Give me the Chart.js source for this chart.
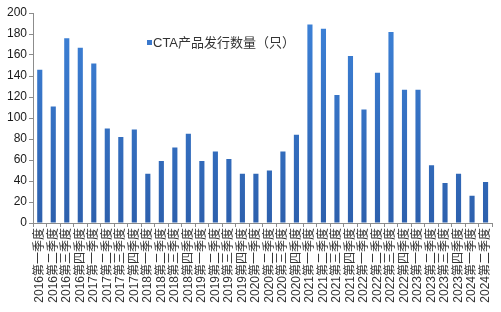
<!DOCTYPE html>
<html>
<head>
<meta charset="utf-8">
<script src="https://cdn.jsdelivr.net/npm/chart.js@4"></script>
<style>
  html, body { margin: 0; padding: 0; background: #fff; }
  #wrap { width: 501px; height: 312px; }
</style>
</head>
<body>
<div id="wrap"><canvas id="cta-chart"></canvas></div>
<script>
// 季度
const quarterLabels = [
  "2016第一季度", "2016第二季度", "2016第三季度", "2016第四季度",
  "2017第一季度", "2017第二季度", "2017第三季度", "2017第四季度",
  "2018第一季度", "2018第二季度", "2018第三季度", "2018第四季度",
  "2019第一季度", "2019第二季度", "2019第三季度", "2019第四季度",
  "2020第一季度", "2020第二季度", "2020第三季度", "2020第四季度",
  "2021第一季度", "2021第二季度", "2021第三季度", "2021第四季度",
  "2022第一季度", "2022第二季度", "2022第三季度", "2022第四季度",
  "2023第一季度", "2023第二季度", "2023第三季度", "2023第四季度",
  "2024第一季度", "2024第二季度",
];

// CTA产品发行数量
const ctaCounts = [
  146, 111, 176, 167,
  152, 90, 82, 89,
  47, 59, 72, 85,
  59, 68, 61, 47,
  47, 50, 68, 84,
  189, 185, 122, 159,
  108, 143, 182, 127,
  127, 55, 38, 47,
  26, 39,
];

const seriesName = "CTA产品发行数量（只）";
const yTicks = [0, 20, 40, 60, 80, 100, 120, 140, 160, 180, 200];

const fontFamily = '"Liberation Sans", Arial, "Noto Sans CJK SC", sans-serif';

function barGradient(context) {
  const area = context.chart.chartArea;
  if (!area) return "#3a78cc";
  const g = context.chart.ctx.createLinearGradient(0, area.top, 0, area.bottom);
  g.addColorStop(0, "#3d82d8");
  g.addColorStop(1, "#2d60ad");
  return g;
}

// 图例（画在绘图区内）
const innerLegend = {
  id: "innerLegend",
  afterDraw(chart) {
    const ctx = chart.ctx;
    ctx.save();
    ctx.fillStyle = "#3a78cc";
    ctx.fillRect(147, 40, 5, 5);
    ctx.fillStyle = "#333333";
    ctx.font = "13px " + fontFamily;
    ctx.textBaseline = "middle";
    ctx.fillText(seriesName, 153, 43);
    ctx.restore();
  },
};

const ctaChart = document.getElementById("cta-chart");
new Chart(ctaChart, {
  type: "bar",
  data: {
    labels: quarterLabels,
    datasets: [
      {
        label: seriesName,
        data: ctaCounts,
        backgroundColor: barGradient,
        barPercentage: 0.38,
        categoryPercentage: 1,
      },
    ],
  },
  options: {
    responsive: true,
    maintainAspectRatio: false,
    animation: false,
    layout: { padding: { top: 13, right: 3, left: 0, bottom: 0 } },
    plugins: {
      legend: { display: false },
      tooltip: { enabled: false },
    },
    scales: {
      x: {
        grid: {
          display: true,
          drawOnChartArea: false,
          offset: true,
          tickLength: 4,
          color: "#8c8c8c",
        },
        border: { color: "#8c8c8c" },
        ticks: {
          autoSkip: false,
          minRotation: 90,
          maxRotation: 90,
          padding: 1,
          color: "#333333",
          font: { family: fontFamily, size: 12 },
        },
        afterFit(scale) {
          scale.height = 89;
        },
      },
      y: {
        min: 0,
        max: 200,
        afterBuildTicks(scale) {
          scale.ticks = yTicks.map((v) => ({ value: v }));
        },
        grid: {
          display: true,
          drawOnChartArea: false,
          tickLength: 4,
          color: "#8c8c8c",
        },
        border: { color: "#8c8c8c" },
        ticks: {
          padding: 2,
          color: "#1a1a1a",
          font: { family: fontFamily, size: 12 },
        },
        afterFit(scale) {
          scale.width = 33;
        },
      },
    },
  },
  plugins: [innerLegend],
});
</script>
</body>
</html>
